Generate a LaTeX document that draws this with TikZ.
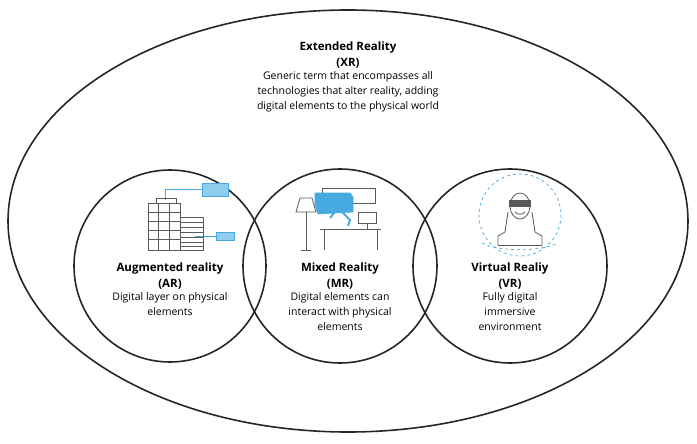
\documentclass[tikz,border=0pt]{standalone}
\usepackage{fontspec}
\setmainfont{Open Sans}
\usetikzlibrary{positioning}
\definecolor{iconblue}{RGB}{70,170,225}
\definecolor{icongray}{RGB}{90,90,90}
\begin{document}
\begin{tikzpicture}[x=1pt,y=-1pt,
    ring/.style={line width=1.6pt,black!85},
    title/.style={font=\fontsize{11.5}{15.5}\selectfont\bfseries,align=center,inner sep=1pt},
    desc/.style={font=\fontsize{10.5}{15}\selectfont,align=center,inner sep=1pt},
    icon/.style={icongray,line width=0.8pt},
    screen/.style={fill=iconblue!60,draw=iconblue,line width=0.6pt}]
  \useasboundingbox[fill=white] (0,0) rectangle (697,444);
  % outer ellipse
  \draw[ring] (348,221) ellipse (340 and 211);
  % circles
  \draw[ring] (170,266) circle (96);
  \draw[ring] (340,266) circle (97);
  \draw[ring] (510,266) circle (97);
  % XR text
  \node[title] (xr) at (348,55) {Extended Reality\\(XR)};
  \node[desc,below=1pt of xr] (xrdesc) {Generic term that encompasses all\\technologies that alter reality, adding\\digital elements to the physical world};
  % AR
  \node[title] (ar) at (170,276) {Augmented reality\\(AR)};
  \node[desc,below=1pt of ar] (ardesc) {Digital layer on physical\\elements};
  % MR
  \node[title] (mr) at (340,276) {Mixed Reality\\(MR)};
  \node[desc,below=1pt of mr] (mrdesc) {Digital elements can\\interact with physical\\elements};
  % VR
  \node[title] (vr) at (510,276) {Virtual Realiy\\(VR)};
  \node[desc,below=1pt of vr] (vrdesc) {Fully digital\\immersive\\environment};
  % AR icon: building
  \draw[iconblue,line width=0.5pt] (165,200) -- (165,189) -- (202,189);
  \draw[iconblue,line width=0.5pt] (195,236) -- (216,236);
  \draw[screen] (202,183) rectangle (228,196);
  \draw[screen] (216,232) rectangle (234,240);
  \draw[icon] (156,198) rectangle (176,203);
  \draw[icon] (148,203) rectangle (180,250);
  \foreach \yy in {212,221,230,239} \draw[icon] (148,\yy) -- (180,\yy);
  \foreach \xx in {158,169} \draw[icon] (\xx,203) -- (\xx,250);
  \draw[icon] (180,217) rectangle (203,250);
  \foreach \yy in {222,227,232,237,242,246} \draw[icon,line width=0.5pt] (180,\yy) -- (203,\yy);
  % MR icon: desk
  \draw[icon] (322,188) rectangle (375,203);
  \draw[screen,fill=iconblue] (315,193) -- (350,193) -- (353,197) -- (353,212) -- (318,214) -- (315,205) -- cycle;
  \draw[icon,fill=white] (300,198) -- (312,198) -- (316,212) -- (296,212) -- cycle;
  \draw[icon] (306,212) -- (306,250) (301,250) -- (311,250);
  \draw[iconblue,line width=2pt] (330,218) -- (338,208) -- (350,220) -- (348,226);
  \draw[icon] (358,212) rectangle (376,223);
  \draw[icon] (367,223) -- (367,229);
  \draw[icon] (320,229) -- (381,229);
  \draw[icon] (324,229) -- (324,250) (377,229) -- (377,250);
  % VR icon: person with headset
  \draw[iconblue,dashed,line width=0.7pt] (520,215) circle (41);
  \draw[iconblue,dashed,line width=0.7pt] (482,243) .. controls (500,252) and (540,252) .. (558,243);
  \draw[icon] (520,206) ellipse (10 and 13);
  \fill[icongray] (509,200) rectangle (531,207);
  \draw[icon] (508,212) -- (505,232) -- (498,236) -- (498,245) (532,212) -- (535,232) -- (542,236) -- (542,245);
  \draw[icon] (498,245) -- (542,245);
  \draw[icon] (515,212) .. controls (518,215) and (522,215) .. (525,212);
\end{tikzpicture}
\end{document}
